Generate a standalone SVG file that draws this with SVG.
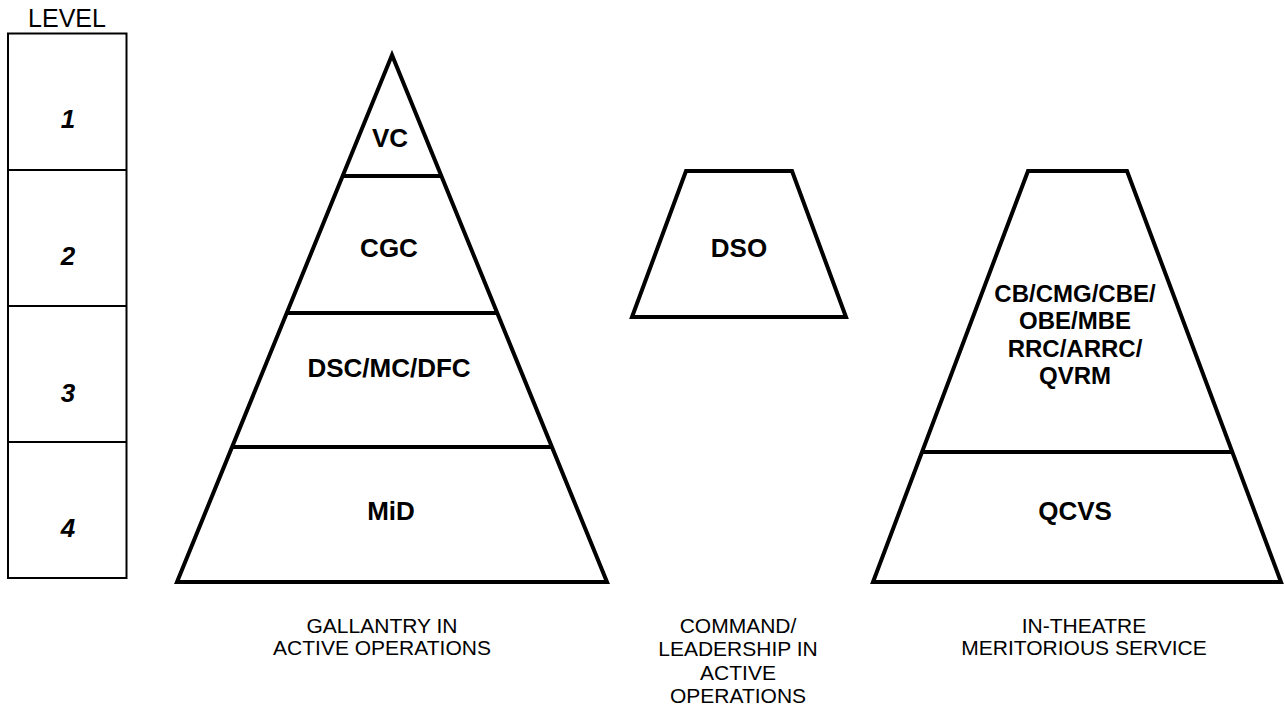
<svg xmlns="http://www.w3.org/2000/svg" width="1285" height="710" viewBox="0 0 1285 710">
<style>
.shape{fill:#fff;stroke:#000;stroke-width:4;stroke-linejoin:miter}
.div{stroke:#000;stroke-width:4}
.box{fill:#fff;stroke:#000;stroke-width:2}
.lbl{font-family:"Liberation Sans",Arial,sans-serif;font-weight:bold;font-size:26px;text-anchor:middle;fill:#000}
.blk{font-family:"Liberation Sans",Arial,sans-serif;font-weight:bold;font-size:24px;text-anchor:middle;fill:#000}
.num{font-family:"Liberation Sans",Arial,sans-serif;font-weight:bold;font-style:italic;font-size:26px;text-anchor:middle;fill:#000}
.cap{font-family:"Liberation Sans",Arial,sans-serif;font-size:21px;text-anchor:middle;fill:#000}
.hdr{font-family:"Liberation Sans",Arial,sans-serif;font-size:25px;text-anchor:middle;fill:#000}
</style>
<rect width="1285" height="710" fill="#fff"/>
<g id="levels">
<text class="hdr" x="67" y="27">LEVEL</text>
<rect class="box" x="8" y="33.5" width="118.5" height="544.5"/>
<line x1="8" y1="170" x2="126.5" y2="170" stroke="#000" stroke-width="2"/>
<line x1="8" y1="306" x2="126.5" y2="306" stroke="#000" stroke-width="2"/>
<line x1="8" y1="442" x2="126.5" y2="442" stroke="#000" stroke-width="2"/>
<text class="num" x="68" y="128">1</text>
<text class="num" x="68" y="265">2</text>
<text class="num" x="68" y="402">3</text>
<text class="num" x="68" y="537">4</text>
</g>
<g id="gallantry">
<polygon class="shape" points="392,55 607,582 177,582"/>
<line class="div" x1="342.6" y1="176" x2="441.4" y2="176"/>
<line class="div" x1="287" y1="313" x2="497" y2="313"/>
<line class="div" x1="232" y1="447" x2="552" y2="447"/>
<text class="lbl" x="390" y="147">VC</text>
<text class="lbl" x="389" y="257">CGC</text>
<text class="lbl" x="389" y="377">DSC/MC/DFC</text>
<text class="lbl" x="391" y="520">MiD</text>
<text class="cap" x="382" y="633">GALLANTRY IN</text>
<text class="cap" x="382" y="655">ACTIVE OPERATIONS</text>
</g>
<g id="command">
<polygon class="shape" points="686,171 792,171 846,317 632,317"/>
<text class="lbl" x="739" y="257">DSO</text>
<text class="cap" x="738" y="633">COMMAND/</text>
<text class="cap" x="738" y="656">LEADERSHIP IN</text>
<text class="cap" x="738" y="680">ACTIVE</text>
<text class="cap" x="738" y="703">OPERATIONS</text>
</g>
<g id="meritorious">
<polygon class="shape" points="1028,171 1127,171 1281,582 873,582"/>
<line class="div" x1="922" y1="452" x2="1232" y2="452"/>
<text class="blk" x="1075" y="301.5">CB/CMG/CBE/</text>
<text class="blk" x="1075" y="329">OBE/MBE</text>
<text class="blk" x="1075" y="356.5">RRC/ARRC/</text>
<text class="blk" x="1075" y="384">QVRM</text>
<text class="lbl" x="1075" y="520">QCVS</text>
<text class="cap" x="1084" y="633">IN-THEATRE</text>
<text class="cap" x="1084" y="655">MERITORIOUS SERVICE</text>
</g>
<g id="connectors"/>
</svg>
